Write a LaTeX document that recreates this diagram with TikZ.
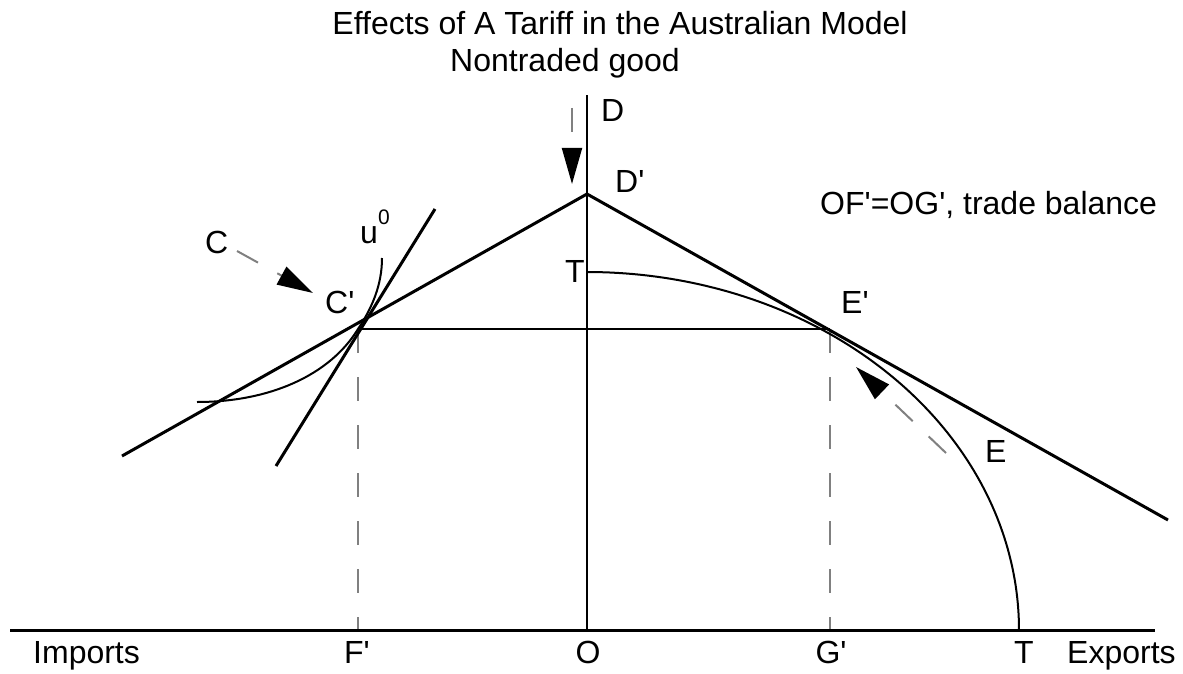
\documentclass[tikz,border=0pt]{standalone}
\usepackage{fontspec}
\setmainfont{Liberation Sans}[Ligatures=TeXOff]
\usetikzlibrary{arrows.meta}
\begin{document}
\begin{tikzpicture}[x=1pt,y=-1pt,
  lbl/.style={inner sep=0pt, font=\fontsize{32}{37}\selectfont},
  axisline/.style={line width=3pt},
  axisthin/.style={line width=2.2pt},
  budget/.style={line width=3pt},
  curveline/.style={line width=2pt},
  guide/.style={gray, line width=2pt, dash pattern=on 24pt off 24pt},
  move/.style={gray, line width=2pt, dash pattern=on 24pt off 22pt,
    -{Triangle[length=36pt,width=20pt,color=black]}},
]
\useasboundingbox (0,0) rectangle (1183,674);
% key points
\coordinate (O) at (587,630);
\coordinate (Xl) at (10,630);
\coordinate (Xr) at (1155,630);
\coordinate (Ytop) at (587,95);
\coordinate (Dp) at (587,194);
\coordinate (Bl) at (122,456);
\coordinate (Br) at (1168,520);
\coordinate (Cp) at (358,329);
\coordinate (Ep) at (830,329);
\coordinate (Fp) at (358,630);
\coordinate (Gp) at (830,630);
\coordinate (Sa) at (276,466);
\coordinate (Sb) at (435,209);
\coordinate (Ula) at (197,402);
\coordinate (Ulb) at (382,258);
% guides
\draw[guide] (Cp) -- (Fp);
\draw[guide] (Ep) -- (Gp);
% axes
\draw[axisline] (Xl) -- (Xr);
\draw[axisthin] (O) -- (Ytop);
% budget lines
\draw[budget] (Bl) -- (Dp) -- (Br);
\draw[budget] (Sa) -- (Sb);
\draw[curveline] (Cp) -- (Ep);
% transformation curve
\draw[curveline] plot[domain=0:90,samples=90] ({587+432*sin(\x)},{630-358*cos(\x)});
% indifference curve
\draw[curveline] (Ula) .. controls (270,402) and (330,375) .. (Cp)
  .. controls (372,308) and (382,285) .. (Ulb);
% movement arrows
\coordinate (Ds) at (572,108); \coordinate (De) at (572,184);
\coordinate (Cs) at (237,251); \coordinate (Ce) at (313,293);
\coordinate (Es) at (946,453); \coordinate (Ee) at (856,367);
\draw[move] (Ds) -- (De);
\draw[move] (Cs) -- (Ce);
\draw[move] (Es) -- (Ee);
% labels
\node[lbl, anchor=base] (title) at (620,35) {Effects of A Tariff in the Australian Model};
\node[lbl, anchor=base] (ylab) at (565,72) {Nontraded good};
\node[lbl, anchor=base west] (lD) at (601,122) {D};
\node[lbl, anchor=base west] (lDp) at (615,192) {D'};
\node[lbl, anchor=base west] (lbal) at (820,214) {OF'=OG', trade balance};
\node[lbl, anchor=base west] (lC) at (205,253) {C};
\node[lbl, anchor=base west] (lu) at (360,243) {u\raisebox{19pt}{\fontsize{21}{21}\selectfont 0}};
\node[lbl, anchor=base west] (lCp) at (325,313) {C'};
\node[lbl, anchor=base west] (lT) at (565,282) {T};
\node[lbl, anchor=base west] (lEp) at (841,313) {E'};
\node[lbl, anchor=base west] (lE) at (985,462) {E};
\node[lbl, anchor=base west] (lIm) at (33,663) {Imports};
\node[lbl, anchor=base] (lFp) at (357,663) {F'};
\node[lbl, anchor=base] (lO) at (588,663) {O};
\node[lbl, anchor=base] (lGp) at (831,663) {G'};
\node[lbl, anchor=base] (lTx) at (1024,663) {T};
\node[lbl, anchor=base west] (lEx) at (1067,663) {Exports};
\end{tikzpicture}
\end{document}
